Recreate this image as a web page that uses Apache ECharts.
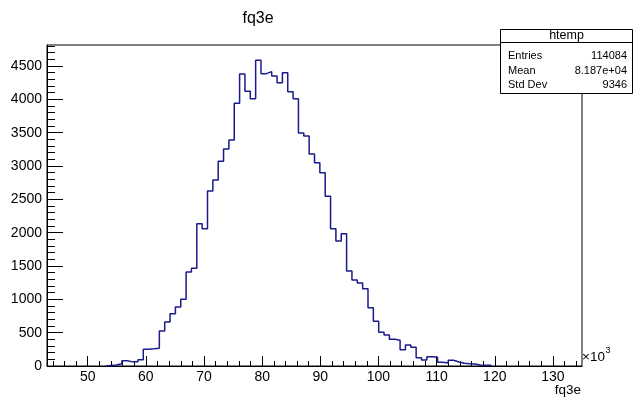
<!DOCTYPE html>
<html>
<head>
<meta charset="utf-8">
<script src="https://cdn.jsdelivr.net/npm/echarts@6/dist/echarts.min.js"></script>
<style>
  html, body { margin: 0; padding: 0; background: #fff; }
  #chart { width: 634px; height: 397px; }
</style>
</head>
<body>
<div id="chart"></div>
<script>
// Histogram of fq3e (units of 10^3), 100 fixed-width bins
const histName = 'htemp';
const varName = 'fq3e';
const xLow = 43;
const xHigh = 135;
const nBins = 100;
const yMax = 4815;

const binCounts = [
  0, 0, 0, 0, 0, 0, 0, 0, 0, 0,
  0, 8, 15, 35, 78, 62, 62, 95, 252, 258,
  265, 525, 660, 785, 885, 1000, 1410, 1465, 2135, 2060,
  2625, 2790, 3070, 3255, 3390, 3940, 4380, 4120, 4010, 4585,
  4385, 4415, 4350, 4250, 4400, 4115, 4010, 3495, 3450, 3180,
  3050, 2900, 2545, 2060, 1875, 1985, 1425, 1290, 1245, 1160,
  875, 670, 505, 465, 400, 385, 245, 315, 280, 125,
  90, 140, 130, 55, 45, 85, 60, 40, 35, 30,
  15, 10, 12, 0, 0, 0, 0, 0, 0, 0,
  0, 0, 0, 0, 0, 0, 0, 0, 0, 0
];

const xMajorTicks = [50, 60, 70, 80, 90, 100, 110, 120, 130];
const yMajorTicks = [0, 500, 1000, 1500, 2000, 2500, 3000, 3500, 4000, 4500];
const xMinorStep = 2;
const yMinorStep = 100;

const statsLabels = ['Entries', 'Mean', 'Std Dev'];
const statsValues = ['114084', '8.187e+04', '9346'];

// Minor tick positions between the labelled ones
const xMinorTicks = [];
for (let v = 44; v < xHigh; v += xMinorStep) if (v % 10 !== 0) xMinorTicks.push(v);
const yMinorTicks = [];
for (let v = yMinorStep; v < yMax; v += yMinorStep) if (v % 500 !== 0) yMinorTicks.push(v);

// Step outline of the histogram, from the first to the last filled bin
const binWidth = (xHigh - xLow) / nBins;
let first = binCounts.findIndex(c => c > 0);
let last = nBins - 1;
while (last > 0 && binCounts[last] === 0) last--;
const outline = [[xLow + first * binWidth, 0]];
for (let k = first; k <= last; k++) {
  outline.push([xLow + k * binWidth, binCounts[k]]);
  outline.push([xLow + (k + 1) * binWidth, binCounts[k]]);
}
outline.push([xLow + (last + 1) * binWidth, 0]);

const font = "'Liberation Sans', Arial, Helvetica, sans-serif";
const gridBox = { left: 47, top: 45, right: 52, bottom: 31 };
const plainNumber = v => String(v);

const chart = echarts.init(document.getElementById('chart'), null, { renderer: 'canvas' });

// Stats box graphics
const box = { x: 500.5, y: 29.5, w: 132, h: 64 };
const statsGraphics = [
  { type: 'rect', shape: { x: box.x, y: box.y, width: box.w, height: box.h },
    style: { fill: '#fff', stroke: '#000', lineWidth: 1 }, z: 100 },
  { type: 'line', shape: { x1: box.x, y1: 42.5, x2: box.x + box.w, y2: 42.5 },
    style: { stroke: '#000', lineWidth: 1 }, z: 101 },
  { type: 'text', x: box.x + box.w / 2, y: 36, z: 101,
    style: { text: histName, font: '12.5px ' + font, fill: '#000', align: 'center', verticalAlign: 'middle' } }
];
const rowY = [56, 70.5, 85];
statsLabels.forEach((lab, i) => {
  statsGraphics.push({ type: 'text', x: 508, y: rowY[i], z: 101,
    style: { text: lab, font: '11px ' + font, fill: '#000', align: 'left', verticalAlign: 'middle' } });
  statsGraphics.push({ type: 'text', x: 627, y: rowY[i], z: 101,
    style: { text: statsValues[i], font: '11px ' + font, fill: '#000', align: 'right', verticalAlign: 'middle' } });
});

const option = {
  animation: false,
  backgroundColor: '#fff',
  grid: [
    Object.assign({ show: true, borderColor: '#000', borderWidth: 1, backgroundColor: 'transparent' }, gridBox),
    Object.assign({ show: false }, gridBox)
  ],
  xAxis: [
    {
      type: 'value', gridIndex: 0, min: xLow, max: xHigh,
      axisLine: { show: true, lineStyle: { color: '#000', width: 1 } },
      axisTick: { show: true, inside: true, length: 10, customValues: xMajorTicks, lineStyle: { color: '#000' } },
      axisLabel: { show: true, customValues: xMajorTicks, formatter: plainNumber, margin: 4,
                   color: '#000', fontSize: 14, fontFamily: font },
      splitLine: { show: false }
    },
    {
      type: 'value', gridIndex: 1, min: xLow, max: xHigh,
      axisLine: { show: false },
      axisTick: { show: true, inside: true, length: 5, customValues: xMinorTicks, lineStyle: { color: '#000' } },
      axisLabel: { show: false },
      splitLine: { show: false }
    }
  ],
  yAxis: [
    {
      type: 'value', gridIndex: 0, min: 0, max: yMax,
      axisLine: { show: true, lineStyle: { color: '#000', width: 1 } },
      axisTick: { show: true, inside: true, length: 16, customValues: yMajorTicks, lineStyle: { color: '#000' } },
      axisLabel: { show: true, customValues: yMajorTicks, formatter: plainNumber, margin: 5,
                   color: '#000', fontSize: 14, fontFamily: font },
      splitLine: { show: false }
    },
    {
      type: 'value', gridIndex: 1, min: 0, max: yMax,
      axisLine: { show: false },
      axisTick: { show: true, inside: true, length: 8, customValues: yMinorTicks, lineStyle: { color: '#000' } },
      axisLabel: { show: false },
      splitLine: { show: false }
    }
  ],
  series: [
    {
      type: 'line', xAxisIndex: 0, yAxisIndex: 0,
      data: outline, showSymbol: false, symbol: 'none', smooth: false,
      lineStyle: { color: '#1a1a8c', width: 1.5 }, z: 5
    }
  ],
  graphic: [
    { type: 'text', x: 258, y: 19,
      style: { text: varName, font: '16px ' + font, fill: '#000', align: 'center', verticalAlign: 'middle' } },
    { type: 'text', x: 581, y: 390,
      style: { text: varName, font: '13.5px ' + font, fill: '#000', align: 'right', verticalAlign: 'middle' } },
    { type: 'text', x: 582, y: 357,
      style: { text: '×10', font: '13.5px ' + font, fill: '#000', align: 'left', verticalAlign: 'middle' } },
    { type: 'text', x: 605.5, y: 351,
      style: { text: '3', font: '9px ' + font, fill: '#000', align: 'left', verticalAlign: 'middle' } }
  ].concat(statsGraphics)
};

chart.setOption(option);
</script>
</body>
</html>
